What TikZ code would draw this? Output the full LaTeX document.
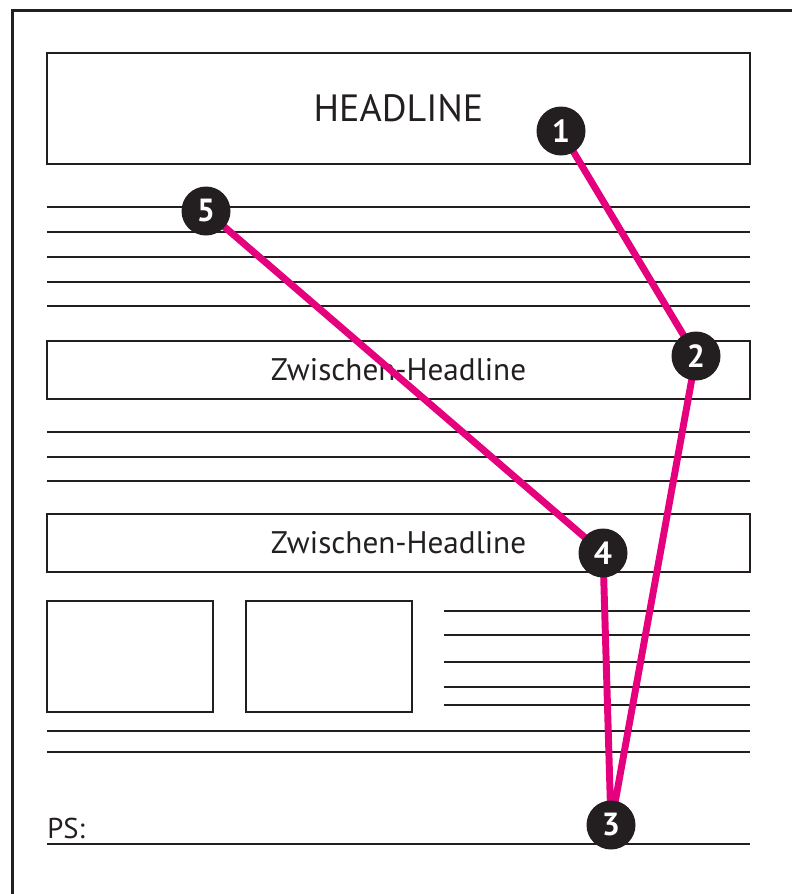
\documentclass[tikz,border=0pt]{standalone}
\usepackage{fontspec}
\setmainfont{PT Sans}
\definecolor{ink}{HTML}{231F20}
\definecolor{mag}{HTML}{E5007E}
\pgfdeclarelayer{fg}
\pgfsetlayers{main,fg}
\begin{document}
\begin{tikzpicture}[x=0.75pt,y=-0.75pt,
  rule/.style={draw=ink,line width=1.6pt},
  box/.style={draw=ink,line width=1.6pt,inner sep=0pt,outer sep=0pt,text=ink},
  num/.style={circle,fill=ink,text=white,minimum size=36.75pt,inner sep=0pt,
    font=\fontsize{24}{24}\selectfont\bfseries},
  link/.style={draw=mag,line width=5.2pt,line join=round,line cap=round}]
\useasboundingbox (0,0) rectangle (792,894);
\fill[white] (0,0) rectangle (792,894);
% page frame (top and left only)
\draw[rule] (12.5,894) -- (12.5,10.5) -- (792,10.5);
% headline
\node[box,minimum width=703*0.75pt,minimum height=111*0.75pt,
  font=\fontsize{28.5}{30}\selectfont] (head) at (398.5,108.5) {HEADLINE};
% text lines group 1
\foreach \y in {207,232,257,282,306} \draw[rule] (47,\y) -- (750,\y);
% subheads
\node[box,minimum width=703*0.75pt,minimum height=58*0.75pt,
  font=\fontsize{23.4}{25}\selectfont] (sub1) at (398.5,370) {Zwischen-Headline};
\foreach \y in {432,457,481} \draw[rule] (47,\y) -- (750,\y);
\node[box,minimum width=703*0.75pt,minimum height=58*0.75pt,
  font=\fontsize{23.4}{25}\selectfont] (sub2) at (398.5,543) {Zwischen-Headline};
% picture boxes
\node[box,minimum width=166*0.75pt,minimum height=111*0.75pt] (img1) at (130,656.5) {};
\node[box,minimum width=166*0.75pt,minimum height=111*0.75pt] (img2) at (329,656.5) {};
\foreach \y in {611,635,662,687,705} \draw[rule] (444,\y) -- (750,\y);
\foreach \y in {731,752} \draw[rule] (47,\y) -- (750,\y);
% PS
\node[anchor=base west,inner sep=0pt,text=ink,font=\fontsize{21.5}{24}\selectfont] (ps) at (47,838) {PS:};
\draw[rule] (47,844) -- (750,844);
% numbered markers
\begin{pgfonlayer}{fg}
\node[num] (c1) at (561,131) {1};
\node[num] (c2) at (696,356) {2};
\node[num] (c3) at (611,825) {3};
\node[num] (c4) at (603,553) {4};
\node[num] (c5) at (206,211) {5};
\end{pgfonlayer}
\draw[link] (c1.center) -- (c2.center) -- (c3.center) -- (c4.center) -- (c5.center);
\end{tikzpicture}
\end{document}
